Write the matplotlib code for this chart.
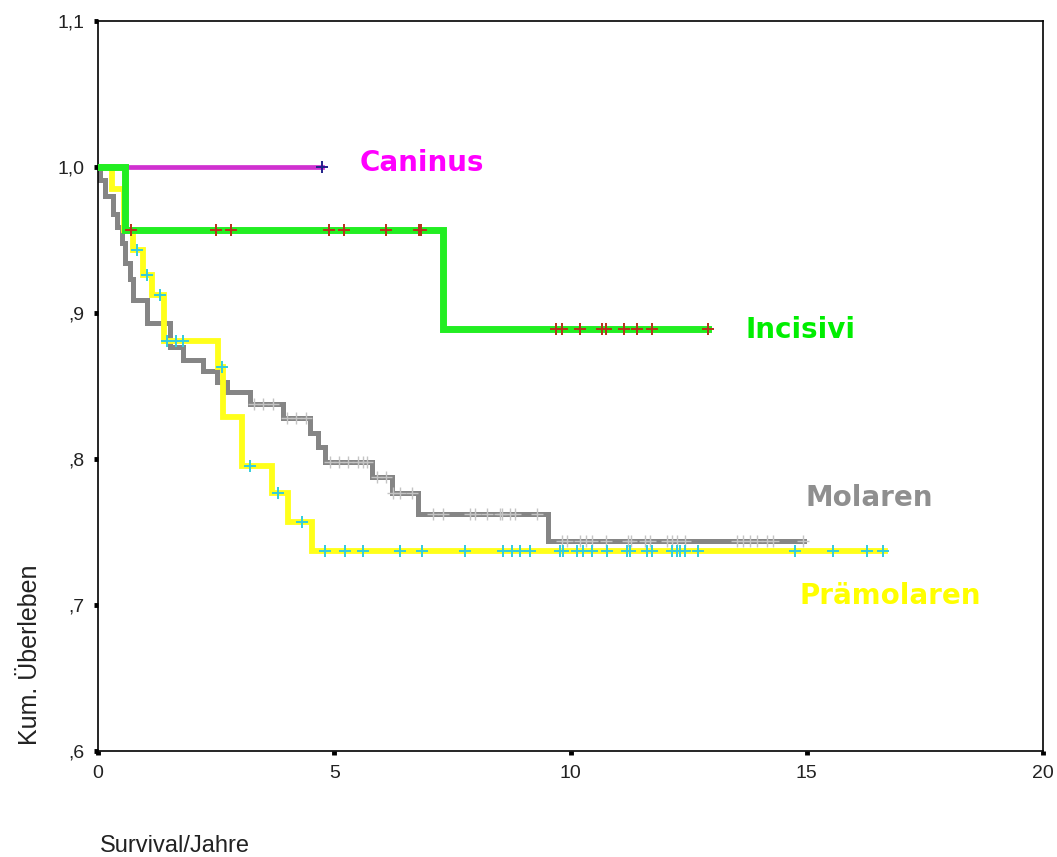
import numpy as np
import matplotlib
matplotlib.use("Agg")
import matplotlib.pyplot as plt

# Kaplan-Meier survival by tooth group: step times (years) and survival after each step
caninus_times = []
caninus_levels = []
caninus_end = 4.74
caninus_censored = [4.74]

incisivi_times = [0.57, 7.30]
incisivi_levels = [0.957, 0.889]
incisivi_end = 12.91
incisivi_censored = [0.70, 2.50, 2.81, 4.89, 5.21, 6.10, 6.79, 6.84,
                     9.69, 9.82, 10.20, 10.66, 10.75, 11.14, 11.40, 11.72, 12.90]

molaren_times = [0.04, 0.15, 0.32, 0.40, 0.51, 0.57, 0.68, 0.74, 1.04, 1.52,
                 1.80, 2.22, 2.52, 2.73, 3.22, 3.92, 4.49, 4.65, 4.80, 5.80,
                 6.22, 6.77, 9.52]
molaren_levels = [0.991, 0.980, 0.968, 0.959, 0.948, 0.934, 0.923, 0.909, 0.893, 0.877,
                  0.868, 0.860, 0.853, 0.846, 0.838, 0.828, 0.818, 0.808, 0.798, 0.788,
                  0.777, 0.762, 0.744]
molaren_end = 14.95
molaren_censored = [3.30, 3.50, 3.70, 4.00, 4.20, 4.40, 4.91, 5.10, 5.30, 5.50, 5.60, 5.70,
                    5.90, 6.10, 6.25, 6.40, 6.65, 7.10, 7.30, 7.87, 7.98, 8.23, 8.50, 8.55,
                    8.72, 8.83, 9.29, 9.81, 9.92, 10.20, 10.33, 10.45, 10.75, 11.22, 11.29,
                    11.58, 11.68, 12.04, 12.14, 12.25, 12.42, 13.52, 13.66, 13.80, 13.94,
                    14.15, 14.29, 14.93]

praemolaren_times = [0.30, 0.55, 0.75, 0.95, 1.15, 1.40, 2.55, 2.65, 3.05, 3.68, 4.02, 4.53]
praemolaren_levels = [0.985, 0.957, 0.943, 0.926, 0.912, 0.881, 0.863, 0.829, 0.795, 0.777,
                      0.757, 0.737]
praemolaren_end = 16.66
praemolaren_censored = [0.83, 1.04, 1.31, 1.46, 1.65, 1.80, 2.62, 3.22, 3.81, 4.32, 4.80,
                        5.23, 5.61, 6.39, 6.86, 7.77, 8.57, 8.76, 8.93, 9.14, 9.78, 9.84,
                        10.14, 10.26, 10.45, 10.77, 11.20, 11.26, 11.62, 11.72, 12.15,
                        12.25, 12.32, 12.42, 12.70, 14.75, 15.56, 16.28, 16.61]

group_names = ["Caninus", "Incisivi", "Molaren", "Prämolaren"]
x_ticks = [0, 5, 10, 15, 20]
y_ticks = [0.6, 0.7, 0.8, 0.9, 1.0, 1.1]
y_tick_labels = [",6", ",7", ",8", ",9", "1,0", "1,1"]


def step_path(times, levels, end):
    xs = [0.0] + list(times) + [end]
    ys = [1.0] + list(levels) + [levels[-1] if levels else 1.0]
    return np.array(xs), np.array(ys)


def level_at(times, levels, t):
    idx = np.searchsorted(np.array(times), t, side="right")
    allv = [1.0] + list(levels)
    return allv[idx]


fig = plt.figure(figsize=(10.57, 8.57), dpi=100)
ax = fig.add_axes([98 / 1057, 1 - 751 / 857, (1043 - 98) / 1057, (751 - 21) / 857])

series = [
    (molaren_times, molaren_levels, molaren_end, molaren_censored,
     "#858585", 3.6, "#c4c4c4", 1.0, 2),
    (praemolaren_times, praemolaren_levels, praemolaren_end, praemolaren_censored,
     "#ffff1a", 4.2, "#33ccdd", 1.4, 3),
    (caninus_times, caninus_levels, caninus_end, caninus_censored,
     "#d030d0", 3.4, "#22228a", 1.4, 4),
    (incisivi_times, incisivi_levels, incisivi_end, incisivi_censored,
     "#22ee22", 5.0, "#b8301a", 1.4, 5),
]

for times, levels, end, cens, color, lw, mcolor, mew, z in series:
    xs, ys = step_path(times, levels, end)
    ax.step(xs, ys, where="post", color=color, lw=lw, zorder=z,
            solid_joinstyle="miter")
    cy = [level_at(times, levels, t) for t in cens]
    ax.plot(cens, cy, linestyle="none", marker="+", markersize=9,
            markeredgewidth=mew, color=mcolor, zorder=z + 0.5)

ax.set_xlim(0, 20)
ax.set_ylim(0.6, 1.1)
ax.set_xticks(x_ticks)
ax.set_xticklabels([str(v) for v in x_ticks])
ax.set_yticks(y_ticks)
ax.set_yticklabels(y_tick_labels)

for s in ax.spines.values():
    s.set_linewidth(1.2)
    s.set_color("black")

ax.tick_params(axis="both", direction="out", length=3, width=3.5, color="black",
               labelsize=14, labelcolor="#222222")
ax.tick_params(axis="x", pad=7)
ax.tick_params(axis="y", pad=7)
for lab in ax.get_xticklabels() + ax.get_yticklabels():
    lab.set_family("Liberation Sans")

# group labels beside the curves
label_specs = [
    ("Caninus", 360, 163, "#ff00ff"),
    ("Incisivi", 745, 330, "#00ee00"),
    ("Molaren", 805, 498, "#8f8f8f"),
    ("Prämolaren", 800, 596, "#ffff00"),
]
for text, px, py, col in label_specs:
    fig.text(px / 1057, 1 - py / 857, text, color=col, fontsize=20,
             fontweight="bold", family="DejaVu Sans", ha="left", va="center")

fig.text(100 / 1057, 1 - 846 / 857, "Survival/Jahre", fontsize=17,
         family="Liberation Sans", ha="left", va="center", color="#222222")
fig.text(30 / 1057, 1 - 655 / 857, "Kum. Überleben", fontsize=18,
         family="Liberation Sans", ha="center", va="center", rotation=90,
         color="#222222")

fig.savefig("out.png", dpi=100, facecolor="white")
